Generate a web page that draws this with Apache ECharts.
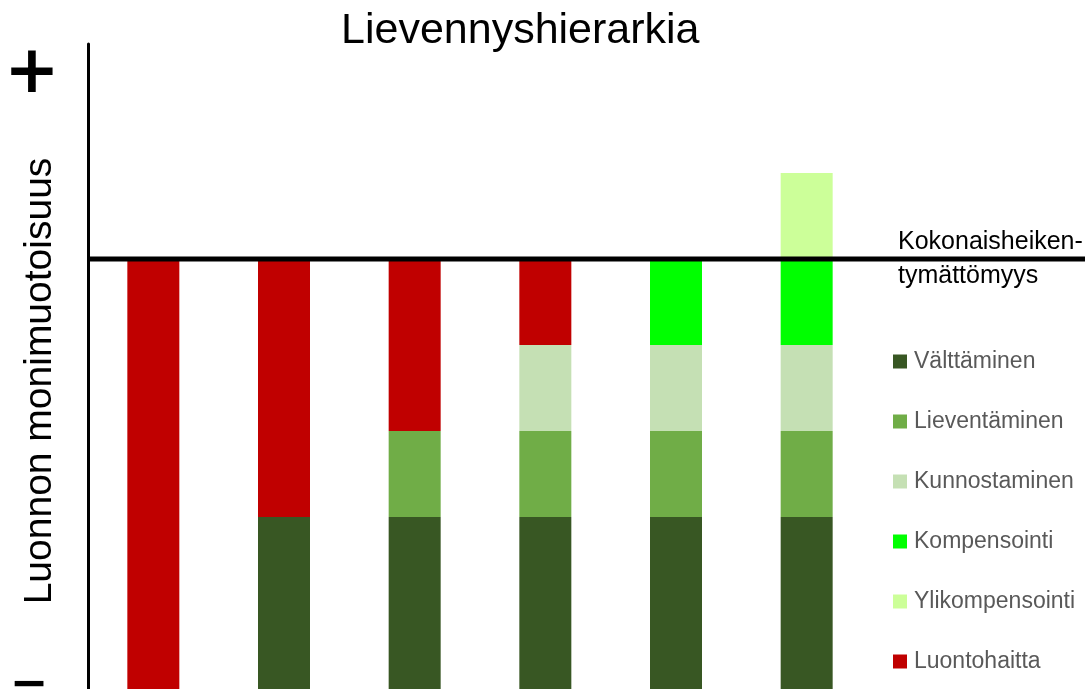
<!DOCTYPE html>
<html><head><meta charset="utf-8">
<script src="https://cdn.jsdelivr.net/npm/echarts@6/dist/echarts.min.js"></script>
<style>html,body{margin:0;padding:0;background:#fff}#c{width:1091px;height:689px}</style>
</head><body><div id="c"></div>
<script>
const categories = ['1', '2', '3', '4', '5', '6'];
const valttaminen = [0, 2, 2, 2, 2, 2];
const lieventaminen = [0, 0, 1, 1, 1, 1];
const kunnostaminen = [0, 0, 0, 1, 1, 1];
const kompensointi = [0, 0, 0, 0, 1, 1];
const luontohaitta = [5, 3, 2, 1, 0, 0];
const ylikompensointi = [0, 0, 0, 0, 0, 1];
const netLossLevel = 5;
const legendOrder = ['Välttäminen', 'Lieventäminen', 'Kunnostaminen', 'Kompensointi', 'Ylikompensointi', 'Luontohaitta'];

const FONT = 'Liberation Sans';
const chart = echarts.init(document.getElementById('c'), null, {renderer: 'canvas'});
function s(name, data, color) {
  return {name, type: 'bar', stack: 'a', data, barWidth: 52, itemStyle: {color}, emphasis: {disabled: true}};
}
chart.setOption({
  animation: false,
  title: {text: 'Lievennyshierarkia', left: 341, top: 10, padding: 0,
    textStyle: {fontFamily: FONT, fontWeight: 'normal', fontSize: 43, color: '#000'}},
  grid: {left: 88, top: 44, width: 784, bottom: 0, containLabel: false},
  xAxis: {type: 'category', data: categories, show: false},
  yAxis: {type: 'value', min: 0, max: 7.5, axisLine: {show: true, lineStyle: {color: '#000', width: 3}},
    axisTick: {show: false}, axisLabel: {show: false}, splitLine: {show: false}},
  legend: {orient: 'vertical', left: 893, top: 350, padding: 0, itemWidth: 14, itemHeight: 14, itemGap: 37,
    data: legendOrder, icon: 'rect',
    textStyle: {fontFamily: FONT, fontSize: 23, lineHeight: 20, color: '#595959', padding: [0, 0, 0, 2]}},
  series: [
    s('Välttäminen', valttaminen, '#385723'),
    s('Lieventäminen', lieventaminen, '#70AD47'),
    s('Kunnostaminen', kunnostaminen, '#C5E0B4'),
    s('Kompensointi', kompensointi, '#00FF00'),
    s('Luontohaitta', luontohaitta, '#C00000'),
    s('Ylikompensointi', ylikompensointi, '#CCFF99')
  ]
});
const yLine = chart.convertToPixel({yAxisIndex: 0}, netLossLevel);
chart.setOption({
  graphic: [
    {type: 'line', shape: {x1: 89, y1: yLine, x2: 1085, y2: yLine}, style: {stroke: '#000', lineWidth: 5}, z: 100},
    {type: 'text', left: 898, top: 225, style: {text: 'Kokonaisheiken-\ntymättömyys', fontFamily: FONT, fontSize: 25, lineHeight: 34, fill: '#000'}},
    {type: 'text', x: 40, y: 381, rotation: Math.PI / 2, style: {text: 'Luonnon monimuotoisuus', fontFamily: FONT, fontSize: 39, fill: '#000', align: 'center', verticalAlign: 'middle'}},
    {type: 'text', x: 32, y: 75, style: {text: '+', fontFamily: 'DejaVu Sans', fontWeight: 'bold', fontSize: 66, fill: '#000', align: 'center', verticalAlign: 'middle'}},
    {type: 'text', x: 29, y: 686, style: {text: '−', fontFamily: 'DejaVu Sans', fontWeight: 'bold', fontSize: 46, fill: '#000', align: 'center', verticalAlign: 'middle'}}
  ]
});
</script></body></html>
